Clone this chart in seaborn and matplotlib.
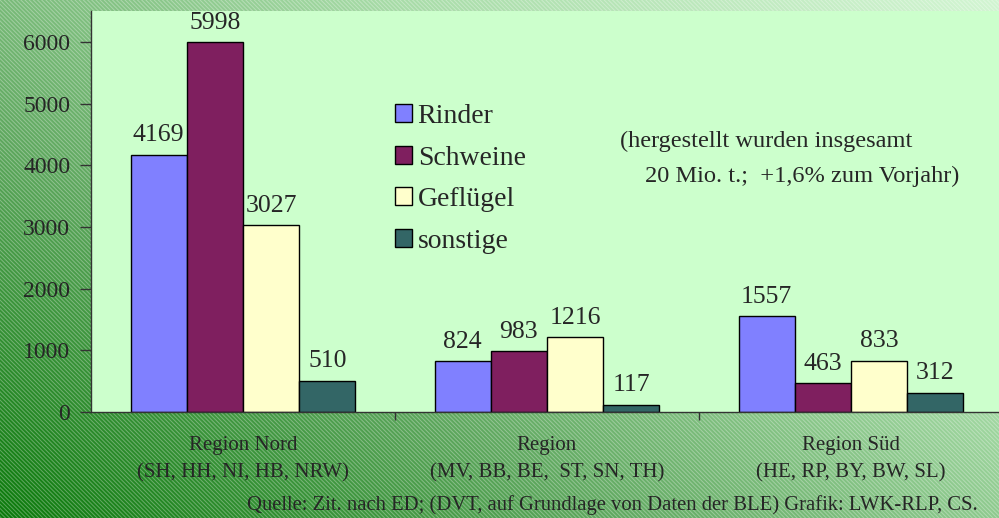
import numpy as np
import pandas as pd
import matplotlib.pyplot as plt
import seaborn as sns
from matplotlib.patches import Rectangle
from matplotlib.colors import LinearSegmentedColormap

# data
regions = ['Region Nord\n(SH, HH, NI, HB, NRW)',
           'Region\n(MV, BB, BE,  ST, SN, TH)',
           'Region Süd\n(HE, RP, BY, BW, SL)']
animals = ['Rinder', 'Schweine', 'Geflügel', 'sonstige']
rinder = [4169, 824, 1557]
schweine = [5998, 983, 463]
gefluegel = [3027, 1216, 833]
sonstige = [510, 117, 312]
colors = ['#8080FF', '#7F1F5F', '#FFFFCC', '#336666']

df = pd.DataFrame({
    'Region': regions * 4,
    'Tier': [a for a in animals for _ in regions],
    'Menge': rinder + schweine + gefluegel + sonstige,
})

sns.set_theme(style='white')
plt.rcParams['font.family'] = ['Liberation Serif', 'DejaVu Serif']

fig = plt.figure(figsize=(9.99, 5.18), dpi=100)

# background: diagonal green gradient with thin white stripes
bg = fig.add_axes([0, 0, 1, 1], zorder=-5)
gx, gy = np.meshgrid(np.linspace(0, 1, 300), np.linspace(0, 1, 200))
grad = 0.55 * gx + 0.45 * gy
cmap = LinearSegmentedColormap.from_list('g', ['#0c7a0c', '#5fa85f', '#a8dca8', '#d2f5d2'])
bg.imshow(grad, cmap=cmap, origin='lower', extent=[0, 1, 0, 1], aspect='auto')
plt.rcParams['hatch.linewidth'] = 0.7
bg.add_patch(Rectangle((0, 0), 1, 1, facecolor='none', edgecolor='white', alpha=0.32,
                       hatch='\\' * 8, linewidth=0.01))
bg.set_xlim(0, 1)
bg.set_ylim(0, 1)
bg.axis('off')

ax = fig.add_axes([91 / 999, 106 / 518, 912 / 999, 401 / 518], zorder=1)
ax.set_facecolor('#CCFFCC')
sns.barplot(data=df, x='Region', y='Menge', hue='Tier', hue_order=animals,
            palette=colors, width=0.74, edgecolor='black', linewidth=1,
            saturation=1, ax=ax)

for c in ax.containers:
    ax.bar_label(c, labels=[f'{int(v)}' for v in c.datavalues], padding=6, fontsize=18.5)

ax.set_ylim(0, 6500)
ax.set_xlim(-0.5, 2.5)
ax.set_yticks(range(0, 7000, 1000))
ax.tick_params(axis='y', labelsize=17, length=8, width=1, color='#333333', pad=7, left=True)
ax.tick_params(axis='x', labelsize=15, length=0, pad=17)
ax.set_xticks([0.5, 1.5], minor=True)
ax.tick_params(axis='x', which='minor', length=6, width=1, color='#333333', bottom=True)
for lbl in ax.get_xticklabels():
    lbl.set_linespacing(1.6)
ax.set_xlabel('')
ax.set_ylabel('')
for s in ['top', 'right']:
    ax.spines[s].set_visible(False)
for s in ['left', 'bottom']:
    ax.spines[s].set_color('#333333')
    ax.spines[s].set_linewidth(1)

leg = ax.legend(loc='upper left', bbox_to_anchor=(381 / 999, 1 - 90 / 518),
                bbox_transform=fig.transFigure, frameon=False, fontsize=20,
                handlelength=0.62, handleheight=0.62, handletextpad=0.2,
                labelspacing=0.6, borderpad=0)
for h in leg.legend_handles:
    h.set_edgecolor('black')
    h.set_linewidth(1)

fig.text(620 / 999, 1 - 141 / 518, '(hergestellt wurden insgesamt', fontsize=17.6,
         va='center', ha='left')
fig.text(645 / 999, 1 - 176 / 518, '20 Mio. t.;  +1,6% zum Vorjahr)', fontsize=17.6,
         va='center', ha='left')
fig.text(978 / 999, 1 - 505 / 518,
         'Quelle: Zit. nach ED; (DVT, auf Grundlage von Daten der BLE) Grafik: LWK-RLP, CS.',
         fontsize=14.9, ha='right', va='center')

fig.savefig('out.png', dpi=100)
